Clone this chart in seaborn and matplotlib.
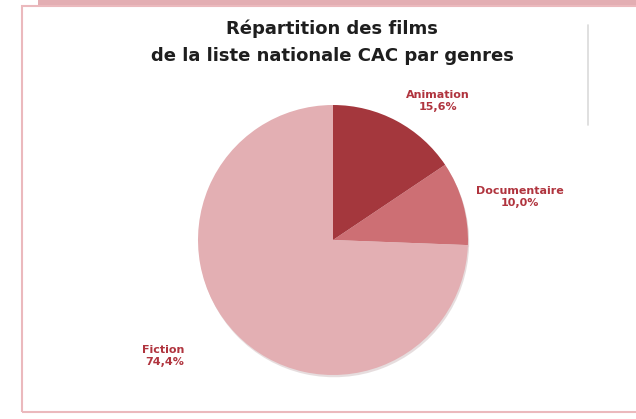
import matplotlib
matplotlib.use("Agg")
import matplotlib.pyplot as plt
from matplotlib.patches import Rectangle
from matplotlib.lines import Line2D
import seaborn as sns
import numpy as np

# Data
genres = ["Animation", "Documentaire", "Fiction"]
shares = [15.6, 10.0, 74.4]
share_labels = ["15,6%", "10,0%", "74,4%"]
colors = ["#A4373D", "#CD6F74", "#E3AFB3"]

title_lines = ["Répartition des films", "de la liste nationale CAC par genres"]

sns.set_theme(style="white")
plt.rcParams["font.family"] = ["DejaVu Sans"]

W, H = 636, 419
fig = plt.figure(figsize=(W / 100, H / 100), dpi=100)
fig.patch.set_facecolor("white")

# frame decorations
fig.patches.append(Rectangle((38 / W, 1 - 6 / H), 1, 6 / H, transform=fig.transFigure,
                             facecolor="#E3AEB3", edgecolor="none", zorder=0))
fig.patches.append(Rectangle((21.5 / W, 1 - 411.5 / H), 1, 405 / H, transform=fig.transFigure,
                             facecolor="none", edgecolor="#EBB9BD", linewidth=1.5, zorder=0))
fig.lines.append(Line2D([588 / W, 588 / W], [1 - 25 / H, 1 - 125 / H], transform=fig.transFigure,
                        color="#DADADA", linewidth=1.2))

# pie axes: centre (333,240), radius 135 px
cx, cy, r = 333, 240, 135
ax = fig.add_axes([(cx - r) / W, (H - cy - r) / H, 2 * r / W, 2 * r / H])
wedges, _ = ax.pie(shares, colors=colors, startangle=90, counterclock=False, radius=1,
                   wedgeprops=dict(linewidth=0),
                   shadow=dict(ox=0.006, oy=-0.012, shade=0.3, alpha=0.25))
ax.set_xlim(-1, 1)
ax.set_ylim(-1, 1)
ax.set_axis_off()

# labels (offset positions relative to the pie, in axes data units)
label_pos = [(0.78, 1.03, "center"), (1.385, 0.32, "center"), (-1.10, -0.86, "right")]
for g, s, (lx, ly, ha) in zip(genres, share_labels, label_pos):
    ax.text(lx, ly, f"{g}\n{s}", ha=ha, va="center", ma=ha, fontsize=8, fontweight="bold",
            color="#B0343E", linespacing=1.3, clip_on=False)

for line, base in zip(title_lines, [34, 61]):
    fig.text(332 / W, 1 - base / H, line, ha="center", va="baseline", fontsize=13,
             fontweight="bold", color="#1e1e1e")

fig.savefig("out.png", dpi=100, facecolor="white")
